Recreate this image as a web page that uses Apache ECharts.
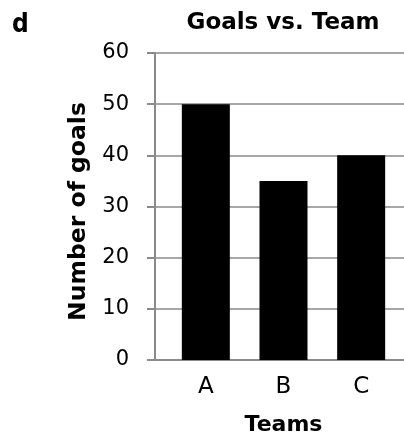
<!DOCTYPE html>
<html>
<head>
<meta charset="utf-8">
<script src="https://cdn.jsdelivr.net/npm/echarts@6/dist/echarts.min.js"></script>
<style>
html,body{margin:0;padding:0;background:#fff;}
#chart{width:404px;height:442px;}
</style>
</head>
<body>
<div id="chart"></div>
<script>
var categories = ['A', 'B', 'C'];
var goals = [50, 35, 40];
var yTicks = [0, 10, 20, 30, 40, 50, 60];

var chart = echarts.init(document.getElementById('chart'), null, {renderer: 'canvas'});
var FONT = '"DejaVu Sans", "Liberation Sans", sans-serif';
var AX = '#8a8a8a';
var option = {
  backgroundColor: '#fff',
  animation: false,
  title: [
    {text: 'd', left: 12, top: 12, padding: 0,
     textStyle: {fontFamily: '"Liberation Sans Narrow", "DejaVu Sans Condensed", sans-serif', fontWeight: 'bold', fontSize: 26, color: '#000'}},
    {text: 'Goals vs. Team', left: 283, textAlign: 'center', top: 12, padding: 0,
     textStyle: {fontFamily: FONT, fontWeight: 'bold', fontSize: 23, color: '#000'}}
  ],
  grid: [
    {left: 155, right: 0, top: 53, bottom: 82, outerBoundsMode: 'none', containLabel: false},
    {left: 167, right: 4, top: 53, bottom: 82, outerBoundsMode: 'none', containLabel: false}
  ],
  xAxis: [
    {gridIndex: 0, type: 'value', min: 0, max: 1, show: true,
     axisLine: {show: true, lineStyle: {color: AX, width: 2}},
     axisTick: {show: false}, axisLabel: {show: false}, splitLine: {show: false}},
    {gridIndex: 1, type: 'category', data: categories,
     axisLine: {show: false}, axisTick: {show: false},
     axisLabel: {margin: 16, fontFamily: FONT, fontSize: 23, color: '#000'},
     name: 'Teams', nameLocation: 'middle', nameGap: 54,
     nameTextStyle: {fontFamily: FONT, fontWeight: 'bold', fontSize: 22, color: '#000'}}
  ],
  yAxis: [
    {gridIndex: 0, type: 'value', min: yTicks[0], max: yTicks[yTicks.length - 1], interval: yTicks[1] - yTicks[0],
     axisLine: {show: true, lineStyle: {color: AX, width: 2}},
     axisTick: {show: true, length: 8, lineStyle: {color: AX, width: 2}},
     axisLabel: {margin: 26, fontFamily: FONT, fontSize: 21, color: '#000'},
     splitLine: {show: true, lineStyle: {color: AX, width: 1.5}},
     name: 'Number of goals', nameLocation: 'middle', nameRotate: 90, nameGap: 59,
     nameTextStyle: {fontFamily: FONT, fontWeight: 'bold', fontSize: 23.5, color: '#000', padding: [0, 10, 0, 0]}},
    {gridIndex: 1, type: 'value', min: yTicks[0], max: yTicks[yTicks.length - 1], show: false}
  ],
  series: [{
    type: 'bar', xAxisIndex: 1, yAxisIndex: 1, data: goals, barWidth: 48,
    itemStyle: {color: '#000'}
  }]
};
chart.setOption(option);
</script>
</body>
</html>
